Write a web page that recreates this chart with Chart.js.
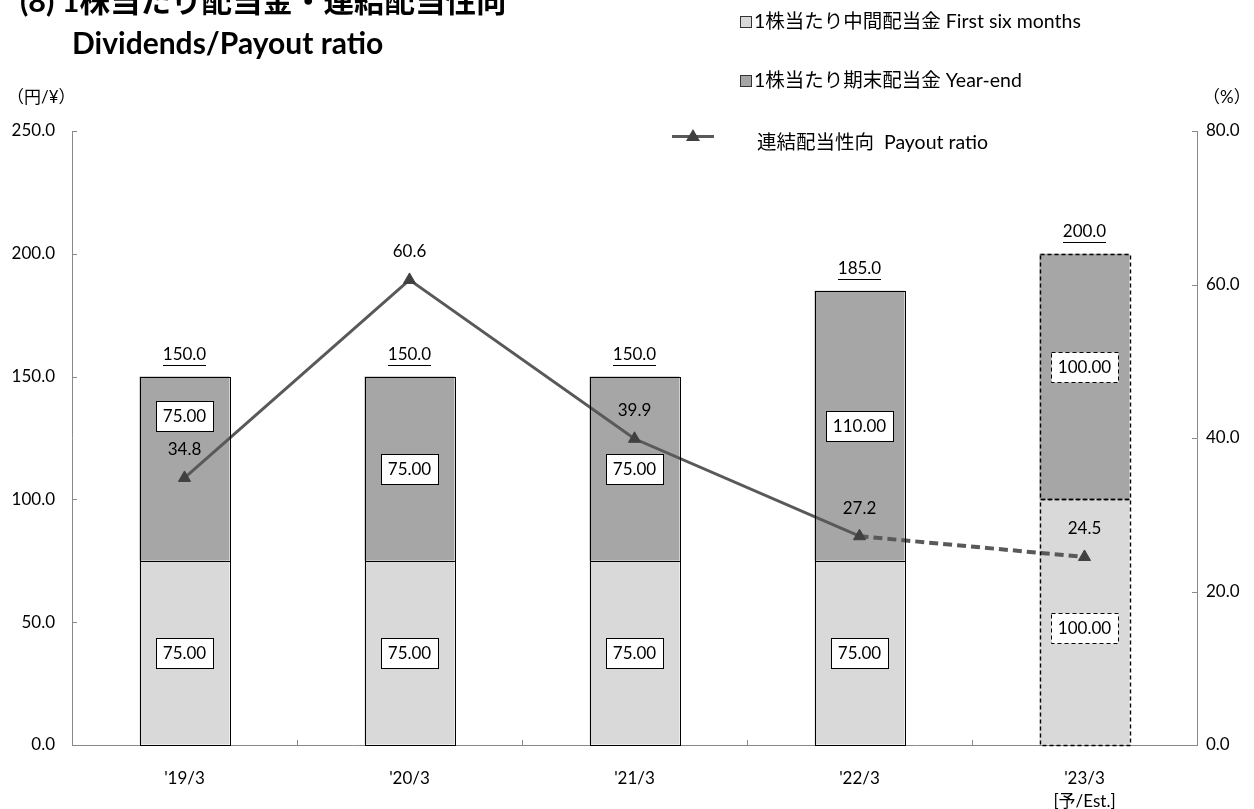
<!DOCTYPE html>
<html><head><meta charset="utf-8">
<script src="https://cdn.jsdelivr.net/npm/chart.js@4.4.1/dist/chart.umd.min.js"></script>
<style>
html,body{margin:0;padding:0;background:#fff;}
#wrap{position:relative;width:1254px;height:809px;overflow:hidden;font-family:Lato,'Noto Sans CJK JP',sans-serif;color:#000;}
#c{position:absolute;left:0;top:0;}
.t{position:absolute;white-space:nowrap;line-height:1;}
.sq{display:inline-block;width:10px;height:10px;border:1px solid #333;margin-right:2px;vertical-align:0px;}
</style></head>
<body><div id="wrap">
<canvas id="c" width="1254" height="809"></canvas>
<div class="t" style="left:20px;top:-15px;font-size:30.5px;font-weight:bold;">(8)&nbsp;1株当たり配当金・連結配当性向</div>
<div class="t" style="left:72px;top:27px;font-size:30px;font-weight:bold;">Dividends/Payout ratio</div>
<div class="t" style="left:7px;top:88px;font-size:17px;">（円/¥）</div>
<div class="t" style="left:1203px;top:88px;font-size:17px;">（%）</div>
<div class="t" style="left:740px;top:11px;font-size:19.5px;"><span class="sq" style="background:#d9d9d9"></span>1株当たり中間配当金 First six months</div>
<div class="t" style="left:740px;top:70px;font-size:19.5px;"><span class="sq" style="background:#a6a6a6"></span>1株当たり期末配当金 Year-end</div>
<div class="t" style="left:672px;top:128px;width:42px;height:16px;">
  <div style="position:absolute;left:0;top:7px;width:42px;height:3px;background:#595959"></div>
  <div style="position:absolute;left:14px;top:1px;width:0;height:0;border-left:7px solid transparent;border-right:7px solid transparent;border-bottom:12px solid #404040"></div>
</div>
<div class="t" style="left:757px;top:132px;font-size:19.5px;">連結配当性向&nbsp; Payout ratio</div>
</div>
<script>
const categories = ["'19/3", "'20/3", "'21/3", "'22/3", ["'23/3", "[予/Est.]"]];
const interimDividend = [75, 75, 75, 75, 100];
const yearEndDividend = [75, 75, 75, 110, 100];
const totalDividend = [150.0, 150.0, 150.0, 185.0, 200.0];
const payoutRatio = [34.8, 60.6, 39.9, 27.2, 24.5];
const leftTicks = [0, 50, 100, 150, 200, 250];
const rightTicks = [0, 20, 40, 60, 80];
const estimateIndex = 4;

// label nudges (px) for the boxed values, as placed in the original
const upperNudge = [-53, 0, 0, 0, -10];
const lowerNudge = [0, 0, 0, 0, 6];

const FONT = "Lato, 'Noto Sans CJK JP', sans-serif";
const AXIS = '#898989';
const FS = 17;

const insideTicks = {
  id: 'insideTicks',
  afterDraw(chart) {
    const ctx = chart.ctx, a = chart.chartArea;
    ctx.save();
    ctx.strokeStyle = AXIS; ctx.lineWidth = 1;
    const y = chart.scales.y, y2 = chart.scales.y2, x = chart.scales.x;
    leftTicks.forEach(v => { const p = Math.round(y.getPixelForValue(v)) + 0.5; ctx.beginPath(); ctx.moveTo(a.left, p); ctx.lineTo(a.left + 5, p); ctx.stroke(); });
    rightTicks.forEach(v => { const p = Math.round(y2.getPixelForValue(v)) + 0.5; ctx.beginPath(); ctx.moveTo(a.right - 5, p); ctx.lineTo(a.right, p); ctx.stroke(); });
    const n = categories.length;
    for (let i = 0; i <= n; i++) {
      let p;
      if (i === 0) p = a.left; else if (i === n) p = a.right;
      else p = (x.getPixelForValue(i - 1) + x.getPixelForValue(i)) / 2;
      p = Math.round(p) + 0.5;
      ctx.beginPath(); ctx.moveTo(p, a.bottom); ctx.lineTo(p, a.bottom - 5); ctx.stroke();
    }
    ctx.restore();
  }
};

const outlinePlugin = {
  id: 'barOutline',
  afterDatasetsDraw(chart) {
    const ctx = chart.ctx;
    ctx.save();
    [0, 1].forEach(d => {
      chart.getDatasetMeta(d).data.forEach((el, i) => {
        const l = Math.round(el.x - el.width / 2) + 0.5, r = Math.round(el.x + el.width / 2) + 0.5;
        const t = Math.round(Math.min(el.y, el.base)) + 0.5, b = Math.round(Math.max(el.y, el.base)) + 0.5;
        ctx.strokeStyle = '#000';
        if (i === estimateIndex) { ctx.setLineDash([4, 3]); ctx.lineWidth = 1.4; }
        else { ctx.setLineDash([]); ctx.lineWidth = 1; }
        ctx.strokeRect(l, t, r - l, b - t);
      });
    });
    ctx.restore();
  }
};

const labelsPlugin = {
  id: 'valueLabels',
  afterDraw(chart) {
    const ctx = chart.ctx;
    ctx.save();
    ctx.font = FS + 'px ' + FONT;
    ctx.textAlign = 'center'; ctx.textBaseline = 'middle';
    const boxes = [[0, interimDividend, lowerNudge], [1, yearEndDividend, upperNudge]];
    boxes.forEach(([d, vals, nudge]) => {
      chart.getDatasetMeta(d).data.forEach((el, i) => {
        const txt = vals[i].toFixed(2);
        const cy = (el.y + el.base) / 2 + nudge[i];
        const w = Math.round(ctx.measureText(txt).width + 14), h = 30;
        const bx = Math.round(el.x - w / 2) + 0.5, by = Math.round(cy - h / 2) + 0.5;
        ctx.fillStyle = '#fff'; ctx.fillRect(bx, by, w, h);
        ctx.strokeStyle = '#000'; ctx.lineWidth = 1;
        ctx.setLineDash(i === estimateIndex ? [4, 3] : []);
        ctx.strokeRect(bx, by, w, h);
        ctx.setLineDash([]);
        ctx.fillStyle = '#000'; ctx.fillText(txt, el.x, cy + 1);
      });
    });
    chart.getDatasetMeta(1).data.forEach((el, i) => {
      const txt = totalDividend[i].toFixed(1);
      const cy = el.y - 22;
      ctx.fillStyle = '#000'; ctx.fillText(txt, el.x, cy);
      const w = ctx.measureText(txt).width;
      ctx.fillRect(Math.round(el.x - w / 2), Math.round(cy + 10), Math.round(w), 1);
    });
    chart.getDatasetMeta(2).data.forEach((el, i) => {
      ctx.fillStyle = '#000'; ctx.fillText(payoutRatio[i].toFixed(1), el.x, el.y - 28);
    });
    ctx.restore();
  }
};

new Chart(document.getElementById('c'), {
  type: 'bar',
  data: {
    labels: categories,
    datasets: [
      { label: '1株当たり中間配当金 First six months', data: interimDividend, backgroundColor: '#d9d9d9',
        borderWidth: 0, stack: 'div', yAxisID: 'y', order: 2 },
      { label: '1株当たり期末配当金 Year-end', data: yearEndDividend, backgroundColor: '#a6a6a6',
        borderWidth: 0, stack: 'div', yAxisID: 'y', order: 2 },
      { type: 'line', label: '連結配当性向 Payout ratio', data: payoutRatio, yAxisID: 'y2', order: 0,
        borderColor: '#595959', borderWidth: 3, pointStyle: 'triangle', pointRadius: 7, pointBackgroundColor: '#404040',
        pointBorderColor: '#404040', pointBorderWidth: 1, tension: 0,
        segment: { borderDash: c => c.p1DataIndex === estimateIndex ? [9, 5] : undefined,
                   borderWidth: c => c.p1DataIndex === estimateIndex ? 4 : 3 } }
    ]
  },
  options: {
    responsive: false, animation: false,
    devicePixelRatio: 1,
    layout: { padding: { top: 131, left: 0, right: 0, bottom: 0 } },
    plugins: { legend: { display: false }, tooltip: { enabled: false }, title: { display: false } },
    datasets: { bar: { categoryPercentage: 1, barPercentage: 0.4 } },
    scales: {
      x: {
        stacked: true,
        grid: { display: true, drawOnChartArea: false, drawTicks: false, offset: true },
        border: { color: AXIS, width: 1 },
        ticks: { color: '#000', font: { family: FONT, size: FS, lineHeight: 1.35 }, padding: 22, maxRotation: 0, autoSkip: false },
        afterFit: s => { s.height = 64; }
      },
      y: {
        stacked: true, min: 0, max: 250, position: 'left',
        afterBuildTicks: s => { s.ticks = leftTicks.map(v => ({ value: v })); },
        grid: { drawOnChartArea: false, drawTicks: false },
        border: { color: AXIS, width: 1 },
        ticks: { color: '#000', font: { family: FONT, size: FS }, padding: 17, callback: v => Number(v).toFixed(1) },
        afterFit: s => { s.width = 72; }
      },
      y2: {
        min: 0, max: 80, position: 'right',
        afterBuildTicks: s => { s.ticks = rightTicks.map(v => ({ value: v })); },
        grid: { drawOnChartArea: false, drawTicks: false },
        border: { color: AXIS, width: 1 },
        ticks: { color: '#000', font: { family: FONT, size: FS }, padding: 9, callback: v => Number(v).toFixed(1) },
        afterFit: s => { s.width = 57; }
      }
    }
  },
  plugins: [insideTicks, outlinePlugin, labelsPlugin]
});
</script>
</body></html>
